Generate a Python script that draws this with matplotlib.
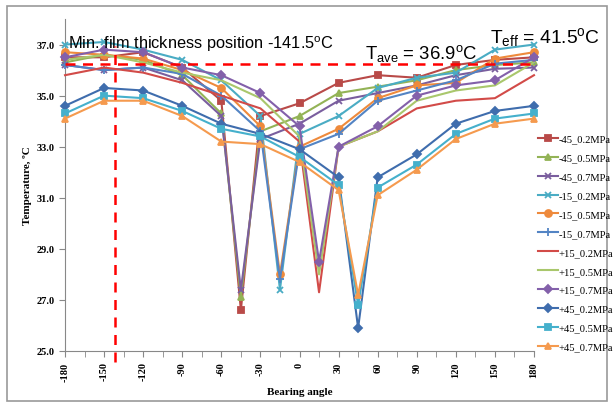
import matplotlib
matplotlib.use('Agg')
import matplotlib.pyplot as plt
from matplotlib.patches import Rectangle

plt.rcParams['mathtext.fontset'] = 'custom'
plt.rcParams['mathtext.rm'] = 'Liberation Sans'
plt.rcParams['mathtext.it'] = 'Liberation Sans'

# angulos medidos em todas as series
base_angles = [-180, -150, -120, -90, -60, -30, 0, 30, 60, 90, 120, 150, 180]

labels = ['-45_0.2MPa', '-45_0.5MPa', '-45_0.7MPa',
          '-15_0.2MPa', '-15_0.5MPa', '-15_0.7MPa',
          '+15_0.2MPa', '+15_0.5MPa', '+15_0.7MPa',
          '+45_0.2MPa', '+45_0.5MPa', '+45_0.7MPa']

# posicao do sensor de cada serie (onde fica o vale)
dip_angle = [-45, -45, -45, -15, -15, -15, 15, 15, 15, 45, 45, 45]
dip_value = [26.6, 27.1, 27.4, 27.4, 28.0, 27.8, 27.3, 28.0, 28.5, 25.9, 26.8, 27.2]

# temperaturas nos angulos base
m45_02 = [36.5, 36.5, 36.7, 36.1, 34.8, 34.2, 34.7, 35.5, 35.8, 35.7, 36.2, 36.4, 36.5]
m45_05 = [36.3, 36.6, 36.4, 35.8, 34.3, 33.6, 34.2, 35.1, 35.35, 35.6, 36.0, 36.2, 36.3]
m45_07 = [36.2, 36.0, 36.1, 35.6, 34.2, 33.3, 33.9, 34.8, 35.1, 35.4, 35.8, 36.05, 36.1]
m15_02 = [37.0, 37.1, 36.8, 36.4, 35.6, 34.2, 33.5, 34.2, 35.3, 35.7, 35.9, 36.8, 37.0]
m15_05 = [36.7, 36.6, 36.45, 36.0, 35.3, 33.8, 33.0, 33.7, 34.9, 35.4, 35.5, 36.45, 36.7]
m15_07 = [36.2, 36.0, 36.1, 35.85, 35.0, 33.6, 32.9, 33.5, 34.8, 35.2, 35.6, 36.25, 36.4]
p15_02 = [35.8, 36.1, 35.9, 35.5, 35.0, 34.5, 33.2, 33.0, 33.6, 34.5, 34.8, 34.9, 35.8]
p15_05 = [36.4, 36.6, 36.3, 35.9, 35.6, 34.9, 33.4, 33.0, 33.6, 34.8, 35.2, 35.4, 36.3]
p15_07 = [36.5, 36.8, 36.7, 36.1, 35.8, 35.1, 33.8, 33.0, 33.8, 35.0, 35.4, 35.6, 36.5]
p45_02 = [34.6, 35.3, 35.2, 34.6, 33.9, 33.5, 32.9, 31.8, 31.8, 32.7, 33.9, 34.4, 34.6]
p45_05 = [34.3, 35.0, 34.9, 34.4, 33.7, 33.4, 32.6, 31.5, 31.4, 32.3, 33.5, 34.1, 34.3]
p45_07 = [34.1, 34.8, 34.8, 34.2, 33.2, 33.1, 32.4, 31.3, 31.1, 32.1, 33.3, 33.9, 34.1]

series = [m45_02, m45_05, m45_07, m15_02, m15_05, m15_07,
          p15_02, p15_05, p15_07, p45_02, p45_05, p45_07]

colors = ['#B94A48', '#93B356', '#7A5E9E', '#4AACC4', '#EE8A3C', '#5384C4',
          '#D24B48', '#A9C76C', '#8360AA', '#3F6DAD', '#45B0CC', '#F59A4E']
markers = ['s', '^', 'x', 'x', 'o', '+', None, None, 'D', 'D', 's', '^']
msizes = [5, 5, 5, 5, 5, 6, 0, 0, 4, 4, 5, 5]

T_line = 36.22
x_min_film = -141.5

fig = plt.figure(figsize=(6.13, 4.06), dpi=100)
ax = fig.add_axes([65/613, 54/406, 469/613, 332/406])

for i in range(len(series)):
    pts = sorted(list(zip(base_angles, series[i])) + [(dip_angle[i], dip_value[i])])
    xs = [p[0] for p in pts]
    ys = [p[1] for p in pts]
    ax.plot(xs, ys, color=colors[i], lw=1.5, marker=markers[i], ms=msizes[i],
            mew=1.3, label=labels[i], clip_on=False, zorder=3)

# linhas de referencia
ax.plot([-180, 180], [T_line, T_line], color='#FF0000', lw=1.8, ls=(0, (4, 3)), zorder=4)
ax.plot([x_min_film, x_min_film], [24.55, 36.95], color='#FF0000', lw=1.8,
        ls=(0, (4, 3)), clip_on=False, zorder=4)

ax.text(-178, 37.05, r'Min. film thickness position -141.5$^{\rm o}$C',
        fontsize=11.8, family='Liberation Sans', va='center', ha='left')
ax.text(50, 36.68, r'T$_{\rm ave}$ = 36.9$^{\rm o}$C', fontsize=13.3,
        family='Liberation Sans', va='center', ha='left')
ax.text(146, 37.33, r'T$_{\rm eff}$ = 41.5$^{\rm o}$C', fontsize=13.9,
        family='Liberation Sans', va='center', ha='left')

ax.set_xlim(-180, 180)
ax.set_ylim(25, 38)
ax.set_xticks(range(-180, 181, 30))
ax.set_xticks(range(-165, 180, 30), minor=True)
ax.set_yticks([25, 27, 29, 31, 33, 35, 37])
ax.set_yticklabels(['25.0', '27.0', '29.0', '31.0', '33.0', '35.0', '37.0'],
                   family='Liberation Serif', fontweight='bold', fontsize=7.5)
ax.set_xticklabels([str(v) for v in range(-180, 181, 30)], rotation=90,
                   family='Liberation Serif', fontweight='bold', fontsize=7.5)
ax.tick_params(axis='x', which='both', direction='out', length=4, color='#888888')
ax.tick_params(axis='y', direction='out', length=4, color='#888888')

for s in ['top', 'right']:
    ax.spines[s].set_visible(False)
for s in ['left', 'bottom']:
    ax.spines[s].set_color('#888888')
    ax.spines[s].set_linewidth(0.8)

ax.set_xlabel('Bearing angle', family='Liberation Serif', fontweight='bold',
              fontsize=8, labelpad=5)
ax.set_ylabel('Temperature, ºC', family='Liberation Serif', fontweight='bold',
              fontsize=8, labelpad=3)

fig.legend(loc='upper left', bbox_to_anchor=(534/613, 1 - 131/406), frameon=False,
           prop={'family': 'Liberation Serif', 'size': 7.6}, handlelength=1.9,
           handletextpad=0.05, labelspacing=0.9, borderaxespad=0)

fig.patches.append(Rectangle((7/613, 4/406), 600/613, 395/406, transform=fig.transFigure,
                             fill=False, edgecolor='#999999', lw=1.2))

fig.savefig('out.png', dpi=100)
